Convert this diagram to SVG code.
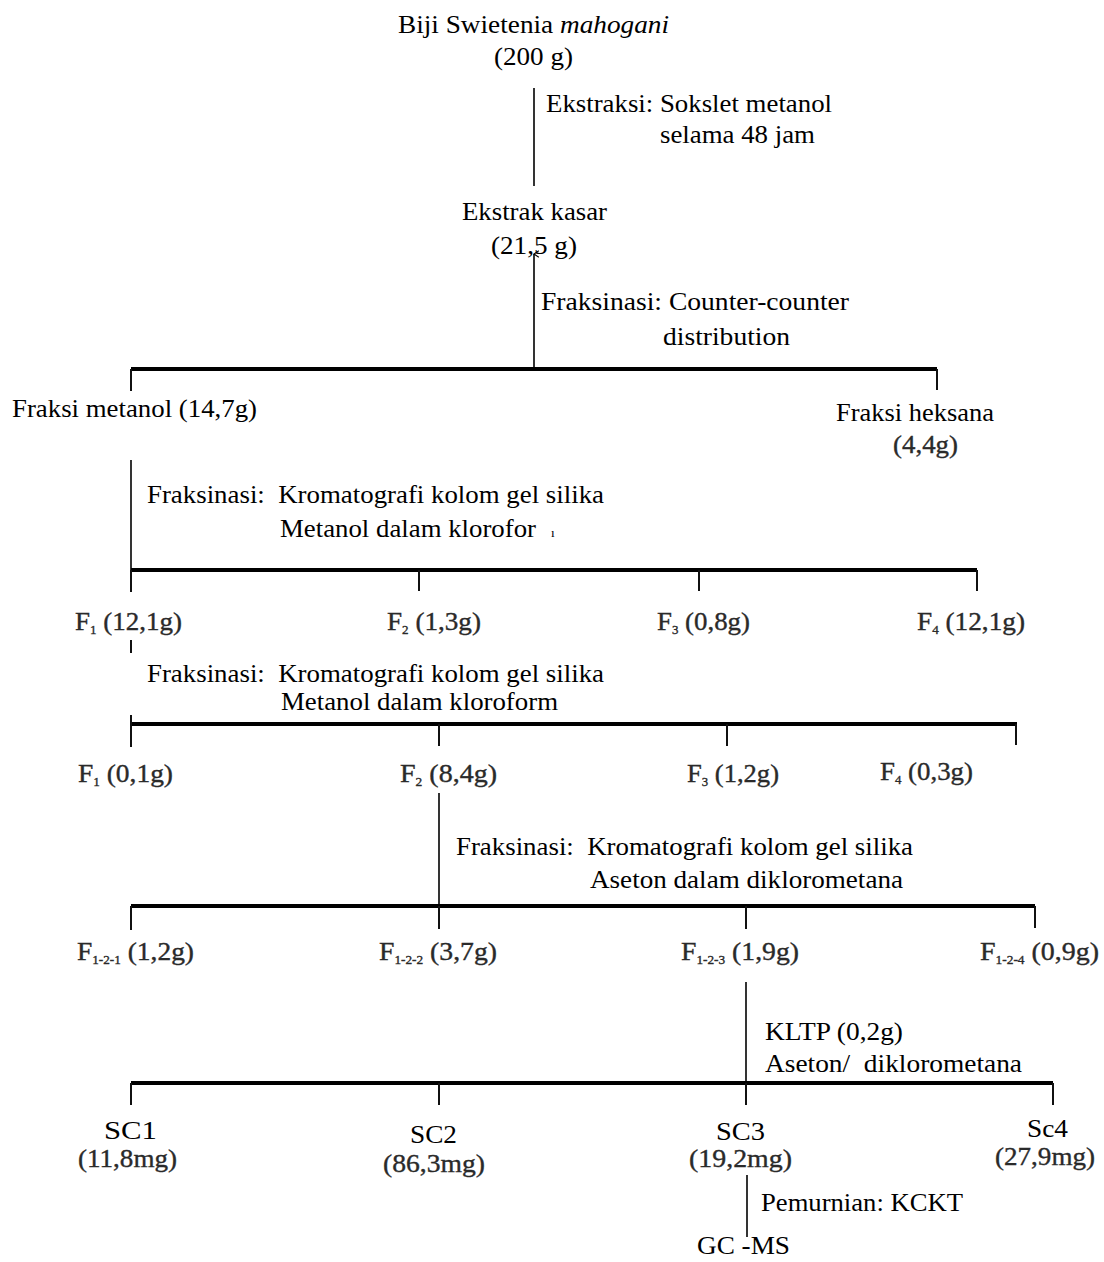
<svg xmlns="http://www.w3.org/2000/svg" width="1104" height="1262" viewBox="0 0 1104 1262">
<style>
text{font-family:"Liberation Serif","Times New Roman",serif;font-size:26px;fill:#000}
.g{fill:#2a2a2a;stroke:#2a2a2a;stroke-width:0.35;font-size:25px}
.s{font-size:12px}
.bar{stroke:#000;stroke-width:4;fill:none}
.ln{stroke:#000;stroke-width:1.6;fill:none}
.tk{stroke:#111;stroke-width:2;fill:none}
</style>
<defs>
<marker id="arr" viewBox="0 0 10 10" refX="5" refY="1" markerWidth="8" markerHeight="8" orient="auto-start-reverse" markerUnits="userSpaceOnUse">
<path d="M1,7 L5,1 L9,7" fill="none" stroke="#000" stroke-width="1.4"/>
</marker>
</defs>
<rect width="1104" height="1262" fill="#fff"/>
<g id="connectors">
<line class="ln" x1="534" y1="88" x2="534" y2="186"/>
<line class="ln" x1="534" y1="369" x2="534" y2="254" marker-end="url(#arr)"/>
<line class="bar" x1="131" y1="369" x2="937" y2="369"/>
<line class="tk" x1="131" y1="369" x2="131" y2="391"/>
<line class="tk" x1="937" y1="369" x2="937" y2="390"/>
<line class="ln" x1="131" y1="460" x2="131" y2="570"/>
<line class="bar" x1="131" y1="570" x2="977" y2="570"/>
<line class="tk" x1="131" y1="570" x2="131" y2="592"/>
<line class="tk" x1="419" y1="570" x2="419" y2="591"/>
<line class="tk" x1="699" y1="570" x2="699" y2="591"/>
<line class="tk" x1="977" y1="570" x2="977" y2="591"/>
<line class="tk" x1="131" y1="640" x2="131" y2="653"/>
<line class="bar" x1="131" y1="724" x2="1017" y2="724"/>
<line class="tk" x1="131" y1="715" x2="131" y2="747"/>
<line class="tk" x1="439" y1="724" x2="439" y2="746"/>
<line class="tk" x1="727" y1="724" x2="727" y2="746"/>
<line class="tk" x1="1016" y1="724" x2="1016" y2="745"/>
<line class="ln" x1="439" y1="793" x2="439" y2="906"/>
<line class="bar" x1="131" y1="906" x2="1035" y2="906"/>
<line class="tk" x1="131" y1="906" x2="131" y2="930"/>
<line class="tk" x1="439" y1="906" x2="439" y2="929"/>
<line class="tk" x1="746" y1="906" x2="746" y2="929"/>
<line class="tk" x1="1035" y1="906" x2="1035" y2="928"/>
<line class="ln" x1="746" y1="982" x2="746" y2="1083"/>
<line class="bar" x1="131" y1="1083" x2="1053" y2="1083"/>
<line class="tk" x1="131" y1="1083" x2="131" y2="1105"/>
<line class="tk" x1="439" y1="1083" x2="439" y2="1105"/>
<line class="tk" x1="746" y1="1083" x2="746" y2="1105"/>
<line class="tk" x1="1053" y1="1083" x2="1053" y2="1105"/>
<line class="ln" x1="747" y1="1175" x2="747" y2="1237"/>
</g>
<g id="biji">
<text x="398" y="33" textLength="271" lengthAdjust="spacingAndGlyphs">Biji Swietenia <tspan font-style="italic">mahogani</tspan></text>
<text x="494" y="65" textLength="79" lengthAdjust="spacingAndGlyphs">(200 g)</text>
</g>
<g id="lbl-ekstraksi">
<text x="546" y="112" textLength="286" lengthAdjust="spacingAndGlyphs">Ekstraksi: Sokslet metanol</text>
<text x="660" y="143" textLength="155" lengthAdjust="spacingAndGlyphs">selama 48 jam</text>
</g>
<g id="ekstrak-kasar">
<text x="462" y="220" textLength="145" lengthAdjust="spacingAndGlyphs">Ekstrak kasar</text>
<text x="491" y="254" textLength="86" lengthAdjust="spacingAndGlyphs">(21,5 g)</text>
</g>
<g id="lbl-ccd">
<text x="541" y="310" textLength="308" lengthAdjust="spacingAndGlyphs">Fraksinasi: Counter-counter</text>
<text x="663" y="345" textLength="127" lengthAdjust="spacingAndGlyphs">distribution</text>
</g>
<g id="fraksi-metanol">
<text x="12" y="417" textLength="245" lengthAdjust="spacingAndGlyphs">Fraksi metanol (14,7g)</text>
</g>
<g id="fraksi-heksana">
<text x="836" y="421" textLength="158" lengthAdjust="spacingAndGlyphs">Fraksi heksana</text>
<text x="893" y="453" textLength="65" lengthAdjust="spacingAndGlyphs" class="g">(4,4g)</text>
</g>
<g id="lbl-kk1">
<text x="147" y="503" textLength="457" lengthAdjust="spacingAndGlyphs" xml:space="preserve">Fraksinasi:  Kromatografi kolom gel silika</text>
<text x="280" y="537" textLength="256" lengthAdjust="spacingAndGlyphs">Metanol dalam klorofor</text>
<text x="551" y="537" style="font-size:13px">ı</text>
</g>
<g id="f1a"><text x="75" y="630" class="g" textLength="107" lengthAdjust="spacingAndGlyphs">F<tspan class="s" dy="4">1</tspan><tspan dy="-4"> (12,1g)</tspan></text></g>
<g id="f2a"><text x="387" y="630" class="g" textLength="94" lengthAdjust="spacingAndGlyphs">F<tspan class="s" dy="4">2</tspan><tspan dy="-4"> (1,3g)</tspan></text></g>
<g id="f3a"><text x="657" y="630" class="g" textLength="93" lengthAdjust="spacingAndGlyphs">F<tspan class="s" dy="4">3</tspan><tspan dy="-4"> (0,8g)</tspan></text></g>
<g id="f4a"><text x="917" y="630" class="g" textLength="108" lengthAdjust="spacingAndGlyphs">F<tspan class="s" dy="4">4</tspan><tspan dy="-4"> (12,1g)</tspan></text></g>
<g id="lbl-kk2">
<text x="147" y="682" textLength="457" lengthAdjust="spacingAndGlyphs" xml:space="preserve">Fraksinasi:  Kromatografi kolom gel silika</text>
<text x="281" y="710" textLength="277" lengthAdjust="spacingAndGlyphs">Metanol dalam kloroform</text>
</g>
<g id="f1b"><text x="78" y="782" class="g" textLength="95" lengthAdjust="spacingAndGlyphs">F<tspan class="s" dy="4">1</tspan><tspan dy="-4"> (0,1g)</tspan></text></g>
<g id="f2b"><text x="400" y="782" class="g" textLength="97" lengthAdjust="spacingAndGlyphs">F<tspan class="s" dy="4">2</tspan><tspan dy="-4"> (8,4g)</tspan></text></g>
<g id="f3b"><text x="687" y="782" class="g" textLength="92" lengthAdjust="spacingAndGlyphs">F<tspan class="s" dy="4">3</tspan><tspan dy="-4"> (1,2g)</tspan></text></g>
<g id="f4b"><text x="880" y="780" class="g" textLength="93" lengthAdjust="spacingAndGlyphs">F<tspan class="s" dy="4">4</tspan><tspan dy="-4"> (0,3g)</tspan></text></g>
<g id="lbl-kk3">
<text x="456" y="855" textLength="457" lengthAdjust="spacingAndGlyphs" xml:space="preserve">Fraksinasi:  Kromatografi kolom gel silika</text>
<text x="590" y="888" textLength="313" lengthAdjust="spacingAndGlyphs">Aseton dalam diklorometana</text>
</g>
<g id="f121"><text x="77" y="960" class="g" textLength="117" lengthAdjust="spacingAndGlyphs">F<tspan class="s" dy="4">1-2-1</tspan><tspan dy="-4"> (1,2g)</tspan></text></g>
<g id="f122"><text x="379" y="960" class="g" textLength="118" lengthAdjust="spacingAndGlyphs">F<tspan class="s" dy="4">1-2-2</tspan><tspan dy="-4"> (3,7g)</tspan></text></g>
<g id="f123"><text x="681" y="960" class="g" textLength="118" lengthAdjust="spacingAndGlyphs">F<tspan class="s" dy="4">1-2-3</tspan><tspan dy="-4"> (1,9g)</tspan></text></g>
<g id="f124"><text x="980" y="960" class="g" textLength="119" lengthAdjust="spacingAndGlyphs">F<tspan class="s" dy="4">1-2-4</tspan><tspan dy="-4"> (0,9g)</tspan></text></g>
<g id="lbl-kltp">
<text x="765" y="1040" textLength="138" lengthAdjust="spacingAndGlyphs">KLTP (0,2g)</text>
<text x="765" y="1072" textLength="257" lengthAdjust="spacingAndGlyphs" xml:space="preserve">Aseton/  diklorometana</text>
</g>
<g id="sc1">
<text x="104" y="1139" textLength="53" lengthAdjust="spacingAndGlyphs">SC1</text>
<text x="78" y="1167" textLength="99" lengthAdjust="spacingAndGlyphs" class="g">(11,8mg)</text>
</g>
<g id="sc2">
<text x="410" y="1143" textLength="47" lengthAdjust="spacingAndGlyphs">SC2</text>
<text x="383" y="1172" textLength="102" lengthAdjust="spacingAndGlyphs" class="g">(86,3mg)</text>
</g>
<g id="sc3">
<text x="716" y="1140" textLength="49" lengthAdjust="spacingAndGlyphs">SC3</text>
<text x="689" y="1167" textLength="103" lengthAdjust="spacingAndGlyphs" class="g">(19,2mg)</text>
</g>
<g id="sc4">
<text x="1027" y="1137" textLength="41" lengthAdjust="spacingAndGlyphs">Sc4</text>
<text x="995" y="1165" textLength="100" lengthAdjust="spacingAndGlyphs" class="g">(27,9mg)</text>
</g>
<g id="lbl-kckt">
<text x="761" y="1211" textLength="202" lengthAdjust="spacingAndGlyphs">Pemurnian: KCKT</text>
</g>
<g id="gcms">
<text x="697" y="1254" textLength="93" lengthAdjust="spacingAndGlyphs">GC -MS</text>
</g>
</svg>
